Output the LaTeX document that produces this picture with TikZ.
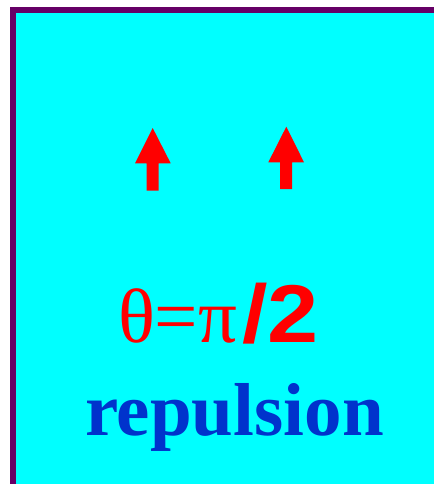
\documentclass[tikz,border=0pt]{standalone}
\usepackage{fontspec}
\setmainfont{Liberation Serif}
\newfontfamily\symfont{Liberation Serif}
\newfontfamily\roundfont{Liberation Sans}
\definecolor{frame}{RGB}{102,0,102}
\definecolor{bgcyan}{RGB}{0,255,255}
\definecolor{txtblue}{RGB}{0,51,204}
\definecolor{arrred}{RGB}{255,0,0}
\tikzset{
  spinarrow/.style={fill=arrred, draw=none},
  titletext/.style={anchor=base west, inner sep=0pt, outer sep=0pt, text=arrred},
  labeltext/.style={anchor=base west, inner sep=0pt, outer sep=0pt, text=txtblue, font=\fontsize{75}{80}\selectfont\bfseries}
}
\begin{document}
\begin{tikzpicture}[x=1pt,y=-1pt]
\useasboundingbox (0,0) rectangle (434,484);
\fill[white] (0,0) rectangle (434,484);
\fill[frame] (10,7) rectangle (434,484);
\fill[bgcyan] (16,13) rectangle (434,484);
% spin arrows
\fill[spinarrow] (152.7,128) -- (170.7,163.3) -- (158.7,163.3) -- (158.7,190.7) -- (146.7,190.7) -- (146.7,163.3) -- (135,163.3) -- cycle;
\fill[spinarrow] (286.3,126.7) -- (304,162.3) -- (292,162.3) -- (292,189) -- (280,189) -- (280,162.3) -- (268.3,162.3) -- cycle;
% texts
\node[titletext] (theta) at (118,342) {\fontsize{77}{80}\selectfont\symfont θ=π\hspace{5pt}\roundfont\bfseries\fontsize{82}{86}\selectfont\scalebox{1.12}[1]{/2}};
\node[labeltext] (rep) at (85,435) {repulsion};
\end{tikzpicture}
\end{document}
